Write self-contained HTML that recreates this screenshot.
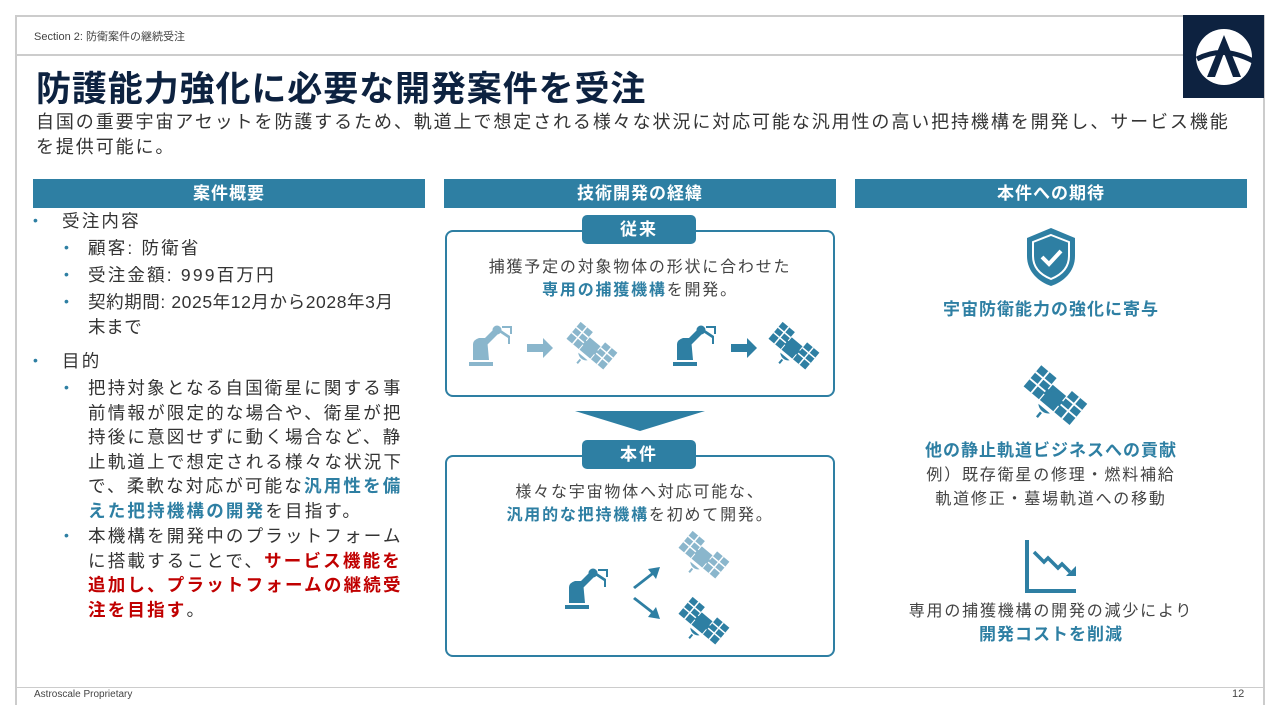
<!DOCTYPE html>
<html><head><meta charset="utf-8"><style>
*{margin:0;padding:0;box-sizing:border-box}
body{width:1280px;height:720px;background:#fff;position:relative;overflow:hidden;font-family:"Liberation Sans","Noto Sans CJK JP",sans-serif;color:#333}
.a{position:absolute}
.hdr{position:absolute;top:179px;height:29px;width:392px;background:#2e7fa3;color:#fff;font-weight:bold;font-size:17px;text-align:center;line-height:29px;letter-spacing:1px}
.li{position:absolute;font-size:17.5px;line-height:24.5px;color:#333;letter-spacing:2.2px}
.dot{position:absolute;color:#2e7fa3;font-size:14px}
.box{position:absolute;left:445px;width:390px;border:2px solid #2e7fa3;border-radius:8px}
.tab{position:absolute;left:582px;width:114px;height:29px;background:#2e7fa3;border-radius:5px;color:#fff;font-weight:bold;font-size:17px;text-align:center;line-height:29px;letter-spacing:2px}
.ct{position:absolute;text-align:center;font-size:16px;line-height:23px;color:#444;letter-spacing:1.8px}
.b{color:#2e7fa3;font-weight:bold}
.r{color:#c00000;font-weight:bold}
</style></head><body>
<svg width="0" height="0" style="position:absolute"><defs>
<g id="sat"><rect x="-24" y="-14" width="16" height="22"/><rect x="8" y="-14" width="16" height="22"/><rect x="-7" y="-8" width="14" height="16"/><rect x="-10" y="-3" width="20" height="5"/><path d="M-6 11 a8 8 0 0 0 12 0z M-1 15 v5 h2 v-5z"/>
<path d="M-24 -7 h16 M-24 0 h16 M-16 -14 v22 M8 -7 h16 M8 0 h16 M16 -14 v22" stroke="#fff" stroke-width="1.5"/></g>
<g id="rob"><rect x="0" y="36" width="24" height="4"/><path d="M4 34 L4 18 Q4 14 10 12 L18 12 L20 34Z"/><path d="M10 18 L26 2 L31 6 L15 22Z"/><circle cx="28" cy="4" r="4.5"/><path d="M30 6 l9 6 l0 6 l2 0 l0 -8 l-9 -6Z M33 0 l10 0 l0 8 l-2 0 l0 -6 l-8 0Z"/></g>
</defs></svg>
<div class="a" style="left:15px;top:15px;width:1250px;height:690px;border:2px solid #ccc;border-bottom:none"></div>
<div class="a" style="left:15px;top:54px;width:1168px;height:2px;background:#ccc"></div>
<div class="a" style="left:15px;top:687px;width:1250px;height:1px;background:#ccc"></div>
<div class="a" style="left:34px;top:28px;font-size:11px;color:#444">Section 2: 防衛案件の継続受注</div>
<div class="a" style="left:1183px;top:15px;width:81px;height:83px;background:#0d2240">
<svg width="81" height="83" viewBox="0 0 81 83"><circle cx="41" cy="42" r="28" fill="#fff"/><path d="M24 62 L41 20 L58 62 L50 62 L41 38 L32 62Z" fill="#0d2240"/><path d="M14 44 Q40 30 70 46" stroke="#0d2240" stroke-width="5" fill="none"/></svg></div>
<div class="a" style="left:36px;top:61px;font-size:35px;font-weight:bold;color:#0d2240;letter-spacing:0.9px">防護能力強化に必要な開発案件を受注</div>
<div class="a" style="left:36px;top:110px;width:1230px;font-size:18px;line-height:25px;color:#333;letter-spacing:1.9px;white-space:nowrap">自国の重要宇宙アセットを防護するため、軌道上で想定される様々な状況に対応可能な汎用性の高い把持機構を開発し、サービス機能<br>を提供可能に。</div>

<div class="hdr" style="left:33px">案件概要</div>
<div class="hdr" style="left:444px">技術開発の経緯</div>
<div class="hdr" style="left:855px">本件への期待</div>

<div class="dot" style="left:33px;top:212px">•</div><div class="li" style="left:62px;top:209px">受注内容</div>
<div class="dot" style="left:64px;top:239px">•</div><div class="li" style="left:88px;top:236px">顧客: 防衛省</div>
<div class="dot" style="left:64px;top:266px">•</div><div class="li" style="left:88px;top:263px">受注金額: 999百万円</div>
<div class="dot" style="left:64px;top:293px">•</div><div class="li" style="left:88px;top:290px;width:345px;letter-spacing:0.6px">契約期間: 2025年12月から2028年3月<br>末まで</div>
<div class="dot" style="left:33px;top:352px">•</div><div class="li" style="left:62px;top:349px">目的</div>
<div class="dot" style="left:64px;top:379px">•</div><div class="li" style="left:88px;top:376px;width:340px">把持対象となる自国衛星に関する事<br>前情報が限定的な場合や、衛星が把<br>持後に意図せずに動く場合など、静<br>止軌道上で想定される様々な状況下<br>で、柔軟な対応が可能な<span class="b">汎用性を備<br>えた把持機構の開発</span>を目指す。</div>
<div class="dot" style="left:64px;top:527px">•</div><div class="li" style="left:88px;top:524px;width:340px">本機構を開発中のプラットフォーム<br>に搭載することで、<span class="r">サービス機能を<br>追加し、プラットフォームの継続受<br>注を目指す</span>。</div>

<div class="box" style="top:230px;height:167px"></div>
<div class="tab" style="top:215px">従来</div>
<div class="ct" style="left:445px;width:390px;top:256px">捕獲予定の対象物体の形状に合わせた<br><span class="b">専用の捕獲機構</span>を開発。</div>
<svg class="a" style="left:445px;top:230px" width="390" height="167">
<g fill="#8ab6cc"><use href="#rob" x="24" y="96"/><path d="M82 114 h16 v-6 l10 10 l-10 10 v-6 h-16z"/><g transform="translate(145,118) rotate(40)"><use href="#sat"/></g></g>
<g fill="#2e7fa3"><use href="#rob" x="228" y="96"/><path d="M286 114 h16 v-6 l10 10 l-10 10 v-6 h-16z"/><g transform="translate(347,118) rotate(40)"><use href="#sat"/></g></g>
</svg>
<svg class="a" style="left:575px;top:411px" width="130" height="20"><path d="M0 0 H130 L65 20Z" fill="#2e7fa3"/></svg>
<div class="box" style="top:455px;height:202px"></div>
<div class="tab" style="top:440px">本件</div>
<div class="ct" style="left:445px;width:390px;top:481px">様々な宇宙物体へ対応可能な、<br><span class="b">汎用的な把持機構</span>を初めて開発。</div>
<svg class="a" style="left:445px;top:455px" width="390" height="202">
<g fill="#2e7fa3"><use href="#rob" x="120" y="114"/>
<path d="M188 132 l18 -14 l-3 -4 l12 -2 l-4 12 l-3 -4 l-18 14z"/><path d="M188 144 l18 14 l-3 4 l12 2 l-4 -12 l-3 4 l-18 -14z"/>
<g transform="translate(257,168) rotate(40)"><use href="#sat"/></g></g>
<g fill="#8ab6cc" transform="translate(257,102) rotate(40)"><use href="#sat"/></g>
</svg>

<svg class="a" style="left:1025px;top:226px" width="52" height="62"><path d="M26 2 L50 12 V30 C50 46 38 56 26 60 C14 56 2 46 2 30 V12Z" fill="#2e7fa3"/><path d="M26 9 L44 16 V30 C44 42 36 49 26 53 C16 49 8 42 8 30 V16Z" fill="none" stroke="#fff" stroke-width="2"/><path d="M17 31 L24 38 L36 25" stroke="#fff" stroke-width="4" fill="none"/></svg>
<div class="ct b" style="left:855px;width:392px;top:298px;font-size:17px;letter-spacing:1px">宇宙防衛能力の強化に寄与</div>
<svg class="a" style="left:1018px;top:364px" width="70" height="68"><g fill="#2e7fa3" transform="translate(35,34) rotate(40) scale(1.25)"><use href="#sat"/></g></svg>
<div class="ct" style="left:855px;width:392px;top:439px;font-size:16px;line-height:24px"><span class="b" style="font-size:17px;letter-spacing:1px">他の静止軌道ビジネスへの貢献</span><br>例）既存衛星の修理・燃料補給<br>軌道修正・墓場軌道への移動</div>
<svg class="a" style="left:1024px;top:540px" width="56" height="54"><path d="M3 0 V51 H52" stroke="#2e7fa3" stroke-width="4" fill="none"/><path d="M10 12 L20 22 L24 18 L34 28 L38 24 L46 32" stroke="#2e7fa3" stroke-width="3.5" fill="none"/><path d="M42 36 L52 36 L52 26Z" fill="#2e7fa3"/></svg>
<div class="ct" style="left:855px;width:392px;top:600px;font-size:16px;line-height:23px">専用の捕獲機構の開発の減少により<br><span class="b" style="font-size:17px;letter-spacing:1px">開発コストを削減</span></div>

<div class="a" style="left:34px;top:689px;font-size:10px;color:#444">Astroscale Proprietary</div>
<div class="a" style="left:1232px;top:688px;font-size:11px;color:#444">12</div>
</body></html>
